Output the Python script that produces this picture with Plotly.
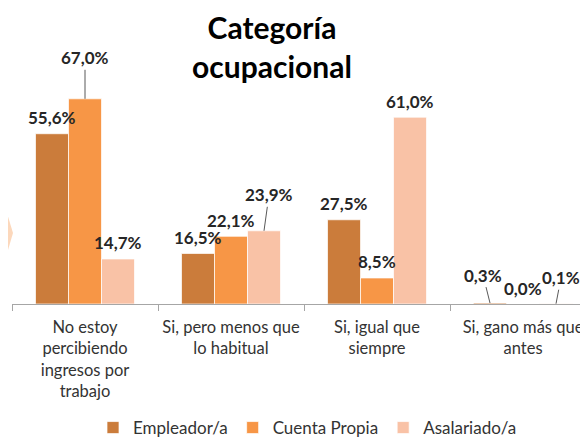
import plotly.graph_objects as go

categories = [
    "No estoy<br>percibiendo<br>ingresos por<br>trabajo",
    "Si, pero menos que<br>lo habitual",
    "Si, igual que<br>siempre",
    "Si, gano más que<br>antes",
]
series_names = ["Empleador/a", "Cuenta Propia", "Asalariado/a"]
empleador = [55.6, 16.5, 27.5, 0.3]
cuenta_propia = [67.0, 22.1, 8.5, 0.0]
asalariado = [14.7, 23.9, 61.0, 0.1]
values = [empleador, cuenta_propia, asalariado]
colors = ["#CB7C3B", "#F79646", "#F9C2A6"]

# label placement style: (ax, ay) pixel offsets for leader-line labels, None = plain label above bar
leader = [
    [None, None, None, (-7, -28)],
    [(0, -41), None, None, None],
    [None, (5, -36), None, (5, -26)],
]

# page body adds an 8px offset, so the figure is 8px smaller than the window
OFF = 8
W, H = 588 - OFF, 439 - OFF
ML, MR, MT, MB = 12 - OFF, 0, 59 - OFF, 135
BAR_W = 0.226
YMAX = 80
FONT = "Lato"

fig = go.Figure()
for name, vals, col in zip(series_names, values, colors):
    fig.add_trace(go.Bar(
        name=name, x=categories, y=vals,
        marker=dict(color=col, line=dict(color="rgba(255,255,255,0.7)", width=1)),
        hoverinfo="skip",
    ))

annotations = []
for si, vals in enumerate(values):
    off = (si - 1) * BAR_W
    for ci, v in enumerate(vals):
        txt = f"{v:.1f}".replace(".", ",") + "%"
        ld = leader[si][ci]
        base = dict(x=ci + off, y=v, xref="x", yref="y", text=txt,
                    font=dict(family=FONT, size=17, color="#262626", weight="bold"))
        if ld is None:
            annotations.append(dict(**base, showarrow=False, yanchor="middle", yshift=16))
        else:
            annotations.append(dict(**base, showarrow=True, arrowhead=0, arrowwidth=1,
                                    arrowcolor="#595959", ax=ld[0], ay=ld[1], standoff=0))

plot_w = W - ML - MR
plot_h = H - MT - MB
def px(x):  # screen x (reference pixels) -> paper
    return (x - OFF - ML) / plot_w
def py(y):  # screen y (reference pixels) -> paper
    return (H - MB - (y - OFF)) / plot_h

fig.add_shape(type="path", xref="paper", yref="paper",
              path=f"M {px(0)} {py(190)} L {px(13)} {py(233)} L {px(0)} {py(277)} Z",
              fillcolor="#FCD8BC", line=dict(width=0), layer="below")

fig.update_layout(
    width=W, height=H,
    margin=dict(l=ML, r=MR, t=MT, b=MB, autoexpand=False),
    paper_bgcolor="white", plot_bgcolor="white",
    barmode="group", bargap=1 - 3 * BAR_W, bargroupgap=0,
    font=dict(family=FONT, color="#333333"),
    title=dict(text="Categoría<br>ocupacional", x=(272 - OFF) / W, xanchor="center",
               y=1 - 31 / H, yanchor="top", yref="container",
               font=dict(family=FONT, size=30, color="#000000", weight="bold"),
               automargin=False),
    xaxis=dict(range=[-0.5, 3.445], showline=True, linecolor="#A6A6A6", linewidth=1,
               ticks="outside", ticklen=6, tickcolor="#A6A6A6", tickson="boundaries",
               tickangle=0, automargin=False,
               tickfont=dict(family=FONT, size=16.5, color="#333333"),
               ticklabelstandoff=8, showgrid=False, zeroline=False),
    yaxis=dict(range=[0, YMAX], visible=False, showgrid=False, automargin=False),
    showlegend=True,
    legend=dict(orientation="h", x=px(93), xanchor="left", y=py(410), yanchor="top",
                font=dict(family=FONT, size=17, color="#333333"), bgcolor="rgba(0,0,0,0)"),
    annotations=annotations,
)

fig.write_html("out.html")
